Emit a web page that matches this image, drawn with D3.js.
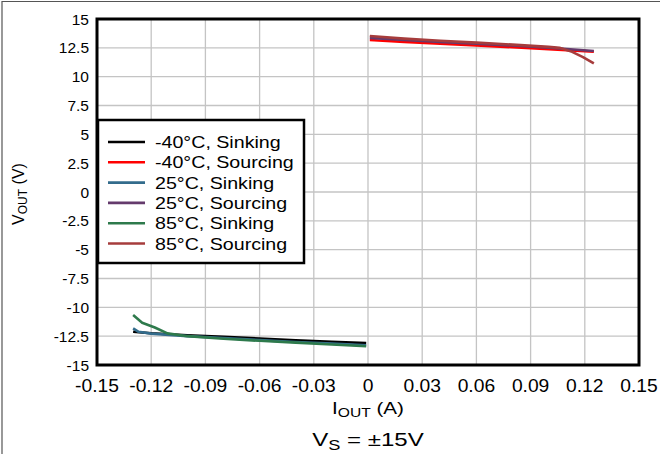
<!doctype html>
<html>
<head>
<meta charset="utf-8">
<script src="https://cdn.jsdelivr.net/npm/d3@7"></script>
<style>
  body { margin: 0; background: #fff; }
  text { font-family: "Liberation Sans", Arial, sans-serif; fill: #000; }
</style>
</head>
<body>
<svg id="chart" width="660" height="455"></svg>
<script>
  const xTicks = [-0.15, -0.12, -0.09, -0.06, -0.03, 0, 0.03, 0.06, 0.09, 0.12, 0.15];
  const yTicks = [-15, -12.5, -10, -7.5, -5, -2.5, 0, 2.5, 5, 7.5, 10, 12.5, 15];

  const names = ["-40°C, Sinking", "-40°C, Sourcing", "25°C, Sinking", "25°C, Sourcing", "85°C, Sinking", "85°C, Sourcing"];
  const colors = ["#000000", "#ff0000", "#336c8c", "#643a6c", "#2e7a4c", "#a63c3c"];

  // [Iout (A), Vout (V)]
  const sink40 = [[-0.130, -12.12], [-0.12, -12.25], [-0.10, -12.42], [-0.08, -12.56], [-0.06, -12.71], [-0.04, -12.85], [-0.02, -12.98], [-0.001, -13.10]];
  const source40 = [[0.001, 13.18], [0.02, 13.02], [0.04, 12.86], [0.06, 12.70], [0.08, 12.55], [0.10, 12.38], [0.125, 12.17]];
  const sink25 = [[-0.130, -11.83], [-0.127, -12.12], [-0.12, -12.28], [-0.10, -12.50], [-0.08, -12.66], [-0.06, -12.84], [-0.04, -13.00], [-0.02, -13.15], [-0.001, -13.30]];
  const source25 = [[0.001, 13.36], [0.02, 13.18], [0.04, 13.02], [0.06, 12.86], [0.08, 12.70], [0.10, 12.52], [0.11, 12.40], [0.125, 12.22]];
  const sink85 = [[-0.130, -10.67], [-0.125, -11.33], [-0.118, -11.75], [-0.111, -12.26], [-0.10, -12.50], [-0.08, -12.72], [-0.06, -12.90], [-0.04, -13.06], [-0.02, -13.22], [-0.001, -13.38]];
  const source85 = [[0.001, 13.53], [0.02, 13.30], [0.04, 13.12], [0.06, 12.95], [0.08, 12.78], [0.10, 12.58], [0.106, 12.50], [0.113, 12.15], [0.119, 11.70], [0.125, 11.16]];

  const series = [sink40, source40, sink25, source25, sink85, source85];
  const drawOrder = [0, 2, 4, 1, 3, 5];

  const svg = d3.select("#chart");
  const margin = {left: 97, top: 19, right: 21, bottom: 90};
  const W = 660, H = 455;

  const x = d3.scaleLinear().domain([-0.15, 0.15]).range([margin.left, W - margin.right]);
  const y = d3.scaleLinear().domain([-15, 15]).range([H - margin.bottom, margin.top]);

  // the original's text is drawn wider than the font; stretch it horizontally around its anchor
  function stretch(sel, ax, ay, k) {
    sel.attr("transform", `translate(${ax},${ay}) scale(${k},1) translate(${-ax},${-ay})`);
  }

  // outer frame (top and left only visible)
  svg.append("path").attr("d", `M2,454V1.5H660`).attr("fill", "none").attr("stroke", "#555").attr("stroke-width", 1.2);

  // grid
  const grid = svg.append("g").attr("stroke", "#c4c4c4").attr("stroke-width", 1.3);
  grid.selectAll(null).data(xTicks).join("line")
      .attr("x1", d => x(d)).attr("x2", d => x(d))
      .attr("y1", y(15)).attr("y2", y(-15));
  grid.selectAll(null).data(yTicks).join("line")
      .attr("y1", d => y(d)).attr("y2", d => y(d))
      .attr("x1", x(-0.15)).attr("x2", x(0.15));

  // data lines
  const line = d3.line().x(d => x(d[0])).y(d => y(d[1]));
  svg.append("g").attr("fill", "none").attr("stroke-width", 2.6).attr("stroke-linejoin", "round")
    .selectAll(null).data(drawOrder).join("path")
      .attr("d", i => line(series[i]))
      .attr("stroke", i => colors[i]);

  // plot border
  svg.append("rect")
      .attr("x", x(-0.15)).attr("y", y(15))
      .attr("width", x(0.15) - x(-0.15)).attr("height", y(-15) - y(15))
      .attr("fill", "none").attr("stroke", "#000").attr("stroke-width", 3);

  // tick labels
  const fmt = d => d === 0 ? "0" : String(d);
  const xl = y(-15) + 27;
  svg.append("g").selectAll(null).data(xTicks).join("text")
      .attr("x", d => x(d)).attr("y", xl)
      .attr("text-anchor", "middle").attr("font-size", 17.5)
      .text(fmt)
      .each(function(d) { stretch(d3.select(this), x(d), xl, 1.1); });
  svg.append("g").selectAll(null).data(yTicks).join("text")
      .attr("x", x(-0.15) - 8).attr("y", d => y(d) + 5.5)
      .attr("text-anchor", "end").attr("font-size", 15.5)
      .text(fmt);

  // axis titles
  const xt = svg.append("text").attr("x", x(0)).attr("y", 414).attr("text-anchor", "middle").attr("font-size", 16.5);
  xt.append("tspan").text("I");
  xt.append("tspan").attr("font-size", 12.5).attr("dy", 3).text("OUT");
  xt.append("tspan").attr("dy", -3).text(" (A)");
  stretch(xt, x(0), 414, 1.25);

  const yt = svg.append("text").attr("transform", `translate(24,${y(0) + 2}) rotate(-90)`)
      .attr("text-anchor", "middle").attr("font-size", 16);
  yt.append("tspan").text("V");
  yt.append("tspan").attr("font-size", 12).attr("dy", 3).text("OUT");
  yt.append("tspan").attr("dy", -3).text(" (V)");

  const st = svg.append("text").attr("x", x(0)).attr("y", 446).attr("text-anchor", "middle").attr("font-size", 18.5);
  st.append("tspan").text("V");
  st.append("tspan").attr("font-size", 14).attr("dy", 4).text("S");
  st.append("tspan").attr("dy", -4).text(" = ±15V");
  stretch(st, x(0), 446, 1.3);

  // legend
  const lg = svg.append("g");
  lg.append("rect").attr("x", 98).attr("y", 120).attr("width", 206).attr("height", 143)
      .attr("fill", "#fff").attr("stroke", "#000").attr("stroke-width", 2.5);
  const item = lg.selectAll(null).data(names).join("g")
      .attr("transform", (d, i) => `translate(0,${142 + i * 20.3})`);
  item.append("line").attr("x1", 108).attr("x2", 145).attr("y1", 0).attr("y2", 0)
      .attr("stroke", (d, i) => colors[i]).attr("stroke-width", 2.6);
  item.append("text").attr("x", 155).attr("y", 6).attr("font-size", 16.5).text(d => d)
      .each(function() { stretch(d3.select(this), 155, 6, 1.19); });
</script>
</body>
</html>
